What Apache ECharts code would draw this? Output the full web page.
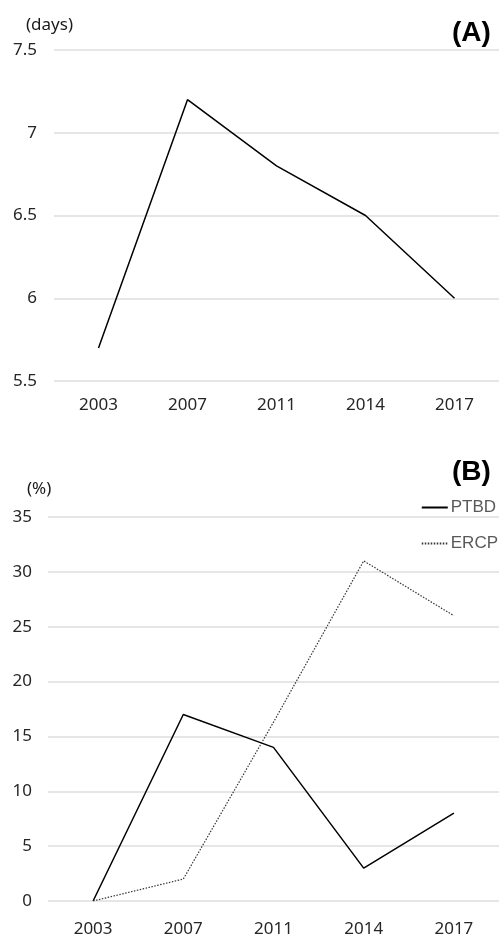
<!DOCTYPE html>
<html><head><meta charset="utf-8">
<script src="https://cdn.jsdelivr.net/npm/echarts@6/dist/echarts.min.js"></script>
<style>html,body{margin:0;padding:0;background:#fff}#c{width:499px;height:938px}</style>
</head><body><div id="c"></div>
<script>
const yearsA = ['2003','2007','2011','2014','2017'];
const daysA = [5.7, 7.2, 6.8, 6.5, 6.0];
const yearsB = ['2003','2007','2011','2014','2017'];
const ptbd = [0, 17, 14, 3, 8];
const ercp = [0, 2, 16.3, 31, 26];

const font = '"Noto Sans", sans-serif';
const labelStyle = {color:'#262626', fontSize:17, fontFamily:font};
const gridLine = {lineStyle:{color:'#dedede', width:1.5}};

const chart = echarts.init(document.getElementById('c'), null, {renderer:'canvas'});
chart.setOption({
  animation:false,
  backgroundColor:'#fff',
  grid:[
    {left:54, right:-4, top:50, height:331},
    {left:48, right:-5, top:517, height:385}
  ],
  xAxis:[
    {type:'category', gridIndex:0, data:yearsA, axisLine:{show:false}, axisTick:{show:false},
     axisLabel:Object.assign({margin:16}, labelStyle)},
    {type:'category', gridIndex:1, data:yearsB, axisLine:{show:false}, axisTick:{show:false},
     axisLabel:Object.assign({margin:20}, labelStyle)}
  ],
  yAxis:[
    {type:'value', gridIndex:0, min:5.5, max:7.5, interval:0.5, splitLine:gridLine,
     axisLabel:Object.assign({margin:17}, labelStyle)},
    {type:'value', gridIndex:1, min:0, max:35, interval:5, splitLine:gridLine,
     axisLabel:Object.assign({margin:16}, labelStyle)}
  ],
  legend:{
    orient:'vertical', right:-4, top:494, itemGap:19, itemWidth:26, itemHeight:17,
    itemStyle:{opacity:0},
    textStyle:{color:'#595959', fontSize:17, fontFamily:'"Liberation Sans", Arial, sans-serif', padding:[0,0,0,-2]},
    data:['PTBD','ERCP']
  },
  graphic:[
    {type:'text', left:26, top:17, style:{text:'(days)', fill:'#1a1a1a', font:'17px "Noto Sans", sans-serif'}},
    {type:'text', left:452, top:19, style:{text:'(A)', fill:'#000', font:'bold 28px "Liberation Sans", Arial, sans-serif'}},
    {type:'text', left:27, top:481, style:{text:'(%)', fill:'#1a1a1a', font:'17px "Noto Sans", sans-serif'}},
    {type:'text', left:452, top:458, style:{text:'(B)', fill:'#000', font:'bold 28px "Liberation Sans", Arial, sans-serif'}}
  ],
  series:[
    {type:'line', name:'days', xAxisIndex:0, yAxisIndex:0, data:daysA, symbol:'none',
     lineStyle:{color:'#000', width:1.5}},
    {type:'line', name:'PTBD', xAxisIndex:1, yAxisIndex:1, data:ptbd, symbol:'none',
     itemStyle:{color:'#000'}, lineStyle:{color:'#000', width:1.5}},
    {type:'line', name:'ERCP', xAxisIndex:1, yAxisIndex:1, data:ercp, symbol:'none',
     itemStyle:{color:'#333'}, lineStyle:{color:'#333', width:1.2, type:[1.5,1.5]}}
  ]
});
</script></body></html>
